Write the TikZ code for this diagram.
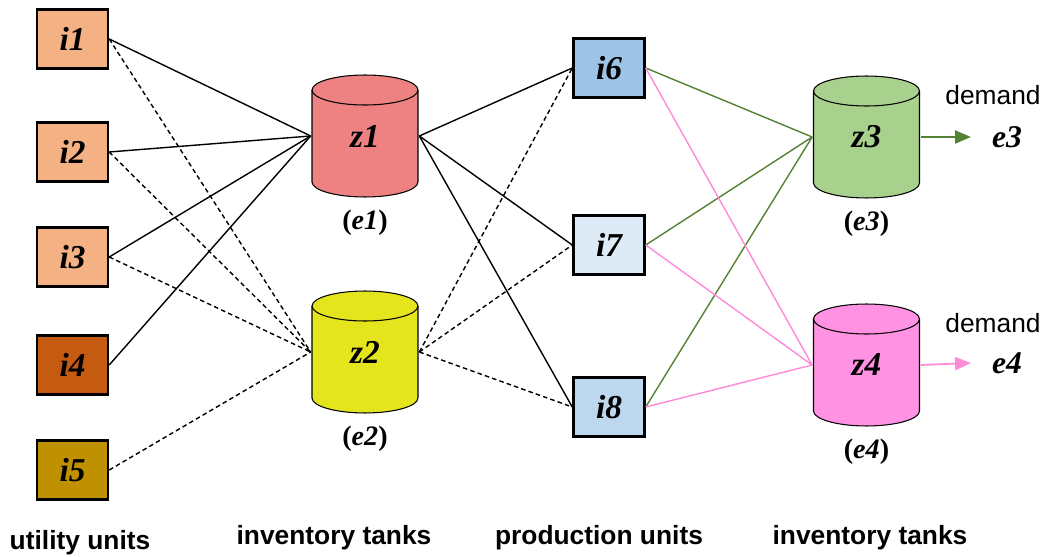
\documentclass[tikz,border=0pt]{standalone}
\usepackage{fontspec}
\setmainfont{Liberation Serif}
\setsansfont{Liberation Sans}
\usetikzlibrary{positioning,arrows.meta}

\definecolor{utilLight}{HTML}{F4B183}
\definecolor{utilDark}{HTML}{C55A11}
\definecolor{utilGold}{HTML}{BF9000}
\definecolor{tankRed}{HTML}{EE8282}
\definecolor{tankYellow}{HTML}{E5E51E}
\definecolor{tankGreen}{HTML}{A9D18E}
\definecolor{tankPink}{HTML}{FF92E2}
\definecolor{prodA}{HTML}{9DC3E6}
\definecolor{prodB}{HTML}{DEEBF7}
\definecolor{prodC}{HTML}{BDD7EE}
\definecolor{flowGreen}{HTML}{548235}
\definecolor{flowPink}{HTML}{FF8AD8}

\begin{document}
\begin{tikzpicture}[x=0.02cm, y=-0.02cm,
	unit/.style={rectangle, draw=black, line width=1.4pt, minimum width=1.42cm, minimum height=1.18cm, font=\fontsize{19}{21}\selectfont\bfseries\itshape},
	tank/.style={rectangle, inner sep=0pt, minimum width=2.16cm, minimum height=2.48cm, font=\fontsize{19}{21}\selectfont\bfseries\itshape,
		path picture={
			\path[fill=#1, draw=black, line width=0.6pt] ([shift={(-1.06cm,0.92cm)}]path picture bounding box.center) -- ++(0,-1.84cm)
				arc[start angle=180, end angle=360, x radius=1.06cm, y radius=0.3cm] -- ++(0,1.84cm)
				arc[start angle=0, end angle=180, x radius=1.06cm, y radius=0.3cm] -- cycle;
			\draw[line width=0.6pt] ([shift={(-1.06cm,0.92cm)}]path picture bounding box.center)
				arc[start angle=180, end angle=360, x radius=1.06cm, y radius=0.3cm];
		}},
	tag/.style={font=\fontsize{16}{18}\selectfont\bfseries},
	caption/.style={font=\sffamily\bfseries\fontsize{15}{18}\selectfont},
	flow/.style={line width=0.8pt},
	alt/.style={flow, dash pattern=on 2.6pt off 1.8pt}]
	\useasboundingbox (0,0) rectangle (1046,557);

	% utility units
	\node (i1) [unit, fill=utilLight] at (72.5,39) {i1};
	\node (i2) [unit, fill=utilLight] at (72.5,152) {i2};
	\node (i3) [unit, fill=utilLight] at (72.5,257) {i3};
	\node (i4) [unit, fill=utilDark] at (72.5,365) {i4};
	\node (i5) [unit, fill=utilGold] at (72.5,470) {i5};

	% first inventory tanks
	\node (z1) [tank=tankRed] at (365,136) {z1};
	\node (z2) [tank=tankYellow] at (365,352) {z2};
	\node (e1) [tag, below=0.1cm of z1] {(\textit{e1})};
	\node (e2) [tag, below=0.1cm of z2] {(\textit{e2})};

	% production units
	\node (i6) [unit, fill=prodA] at (609,68) {i6};
	\node (i7) [unit, fill=prodB] at (609,245) {i7};
	\node (i8) [unit, fill=prodC] at (609,407) {i8};

	% second inventory tanks
	\node (z3) [tank=tankGreen] at (866.5,137) {z3};
	\node (z4) [tank=tankPink] at (866.5,365) {z4};
	\node (e3) [tag, below=0.1cm of z3] {(\textit{e3})};
	\node (e4) [tag, below=0.1cm of z4] {(\textit{e4})};

	% demands
	\node (dem3) [font=\sffamily\fontsize{15}{18}\selectfont] at (993,95) {demand};
	\node (out3) [font=\fontsize{18}{20}\selectfont\bfseries\itshape] at (1007,137) {e3};
	\node (dem4) [font=\sffamily\fontsize{15}{18}\selectfont] at (993,323) {demand};
	\node (out4) [font=\fontsize{18}{20}\selectfont\bfseries\itshape] at (1007,363) {e4};

	% captions
	\node (cap1) [caption] at (80,543) {utility units};
	\node (cap2) [caption] at (334,538) {inventory tanks};
	\node (cap3) [caption] at (599,538) {production units};
	\node (cap4) [caption] at (870,538) {inventory tanks};

	% utilities to tanks
	\draw[flow] (i1.east) -- (z1.west);
	\draw[flow] (i2.east) -- (z1.west);
	\draw[flow] (i3.east) -- (z1.west);
	\draw[flow] (i4.east) -- (z1.west);
	\draw[alt] (i1.east) -- (z2.west);
	\draw[alt] (i2.east) -- (z2.west);
	\draw[alt] (i3.east) -- (z2.west);
	\draw[alt] (i5.east) -- (z2.west);

	% tanks to production
	\draw[flow] (z1.east) -- (i6.west);
	\draw[flow] (z1.east) -- (i7.west);
	\draw[flow] (z1.east) -- (i8.west);
	\draw[alt] (z2.east) -- (i6.west);
	\draw[alt] (z2.east) -- (i7.west);
	\draw[alt] (z2.east) -- (i8.west);

	% production to product tanks
	\draw[flowGreen, line width=0.8pt] (i6.east) -- (z3.west);
	\draw[flowGreen, line width=0.8pt] (i7.east) -- (z3.west);
	\draw[flowGreen, line width=0.8pt] (i8.east) -- (z3.west);
	\draw[flowPink, line width=0.8pt] (i6.east) -- (z4.west);
	\draw[flowPink, line width=0.8pt] (i7.east) -- (z4.west);
	\draw[flowPink, line width=0.8pt] (i8.east) -- (z4.west);

	\draw[flowGreen, line width=1pt, -{Triangle[length=9pt,width=7.5pt]}] (z3.east) -- ([xshift=-0.3cm]out3.west);
	\draw[flowPink, line width=1pt, -{Triangle[length=9pt,width=7.5pt]}] (z4.east) -- ([xshift=-0.3cm]out4.west);
\end{tikzpicture}
\end{document}
